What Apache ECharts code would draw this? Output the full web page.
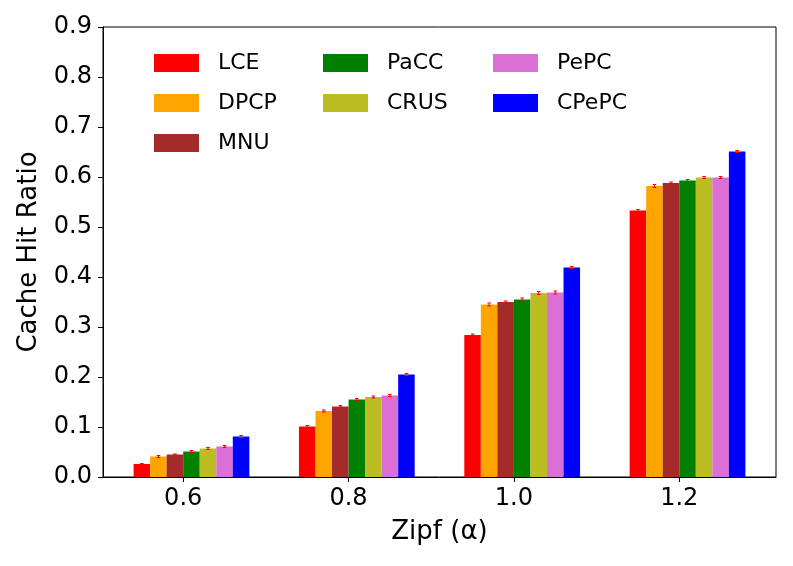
<!DOCTYPE html>
<html>
<head>
<meta charset="utf-8">
<script src="https://cdn.jsdelivr.net/npm/echarts@6/dist/echarts.min.js"></script>
<style>html,body{margin:0;padding:0;background:#fff}#c{width:793px;height:566px}</style>
</head>
<body>
<div id="c"></div>
<script>
const zipfLabels = ['0.6', '0.8', '1.0', '1.2'];
const methods = ['LCE', 'DPCP', 'MNU', 'PaCC', 'CRUS', 'PePC', 'CPePC'];
const colors = ['#ff0000', '#ffa500', '#a52a2a', '#008000', '#bcbd22', '#da70d6', '#0000ff'];
const LCE   = [0.026, 0.101, 0.284, 0.533];
const DPCP  = [0.041, 0.132, 0.345, 0.582];
const MNU   = [0.045, 0.141, 0.350, 0.588];
const PaCC  = [0.051, 0.155, 0.355, 0.593];
const CRUS  = [0.057, 0.160, 0.368, 0.599];
const PePC  = [0.061, 0.163, 0.369, 0.599];
const CPePC = [0.081, 0.205, 0.419, 0.651];
const LCE_err   = [0.001, 0.002, 0.002, 0.002];
const DPCP_err  = [0.002, 0.002, 0.003, 0.003];
const MNU_err   = [0.001, 0.002, 0.002, 0.002];
const PaCC_err  = [0.002, 0.002, 0.003, 0.002];
const CRUS_err  = [0.002, 0.002, 0.003, 0.002];
const PePC_err  = [0.002, 0.002, 0.003, 0.002];
const CPePC_err = [0.002, 0.002, 0.002, 0.002];
const values = [LCE, DPCP, MNU, PaCC, CRUS, PePC, CPePC];
const errors = [LCE_err, DPCP_err, MNU_err, PaCC_err, CRUS_err, PePC_err, CPePC_err];

const BAR_W = 0.1;
const FONT = 'DejaVu Sans';

function makeRender(i, color) {
  return function (params, api) {
    const x0 = api.value(0) + (i - 3) * BAR_W;
    const y = api.value(1);
    const e = api.value(2);
    const pBase = api.coord([x0, 0]);
    const pTop = api.coord([x0 + BAR_W, y]);
    const cx = api.coord([x0 + BAR_W / 2, y]);
    const eHi = api.coord([x0 + BAR_W / 2, y + e]);
    const eLo = api.coord([x0 + BAR_W / 2, y - e]);
    return {
      type: 'group',
      children: [
        { type: 'rect', shape: { x: pBase[0], y: pTop[1], width: pTop[0] - pBase[0], height: pBase[1] - pTop[1] }, style: { fill: color } },
        { type: 'line', shape: { x1: cx[0], y1: eHi[1], x2: cx[0], y2: eLo[1] }, style: { stroke: '#ff0000', lineWidth: 1 } },
        { type: 'line', shape: { x1: cx[0] - 1.8, y1: eHi[1], x2: cx[0] + 1.8, y2: eHi[1] }, style: { stroke: '#ff0000', lineWidth: 1 } },
        { type: 'line', shape: { x1: cx[0] - 1.8, y1: eLo[1], x2: cx[0] + 1.8, y2: eLo[1] }, style: { stroke: '#ff0000', lineWidth: 1 } }
      ]
    };
  };
}

const series = methods.map((m, i) => ({
  name: m,
  type: 'custom',
  itemStyle: { color: colors[i] },
  renderItem: makeRender(i, colors[i]),
  encode: { x: 0, y: 1 },
  data: values[i].map((v, k) => [k, v, errors[i][k]])
}));

function legendCol(names, left) {
  return {
    orient: 'vertical', left: left, top: 52, padding: 0,
    data: names, icon: 'rect', itemWidth: 45, itemHeight: 18, itemGap: 18,
    textStyle: { fontFamily: FONT, fontSize: 22, color: '#000', lineHeight: 22, padding: [0, 0, 0, 14] }
  };
}

const chart = echarts.init(document.getElementById('c'), null, { renderer: 'canvas' });
chart.setOption({
  animation: false,
  backgroundColor: '#fff',
  textStyle: { fontFamily: FONT },
  grid: { left: 103, right: 17, top: 27, bottom: 89, show: true, borderColor: '#000', borderWidth: 1, backgroundColor: 'transparent' },
  legend: [
    legendCol(['LCE', 'DPCP', 'MNU'], 154),
    legendCol(['PaCC', 'CRUS'], 323),
    legendCol(['PePC', 'CPePC'], 493)
  ],
  xAxis: {
    type: 'value', min: -0.485, max: 3.585,
    splitLine: { show: false },
    axisLine: { show: true, onZero: false, lineStyle: { color: '#000' } },
    axisTick: { show: true, customValues: [0, 1, 2, 3], length: 5, inside: false, lineStyle: { color: '#000' } },
    axisLabel: { customValues: [0, 1, 2, 3], formatter: v => zipfLabels[Math.round(v)], fontSize: 24, color: '#000', fontFamily: FONT, margin: 10 },
    name: 'Zipf (α)', nameLocation: 'middle', nameGap: 42,
    nameTextStyle: { fontSize: 26, color: '#000', fontFamily: FONT }
  },
  yAxis: {
    type: 'value', min: 0, max: 0.9, interval: 0.1,
    splitLine: { show: false },
    axisLine: { show: true, onZero: false, lineStyle: { color: '#000' } },
    axisTick: { show: true, length: 5, inside: false, lineStyle: { color: '#000' } },
    axisLabel: { formatter: v => v.toFixed(1), fontSize: 24, color: '#000', fontFamily: FONT, margin: 11 },
    name: 'Cache Hit Ratio', nameLocation: 'middle', nameGap: 61,
    nameTextStyle: { fontSize: 26, color: '#000', fontFamily: FONT }
  },
  series: series
});
</script>
</body>
</html>
